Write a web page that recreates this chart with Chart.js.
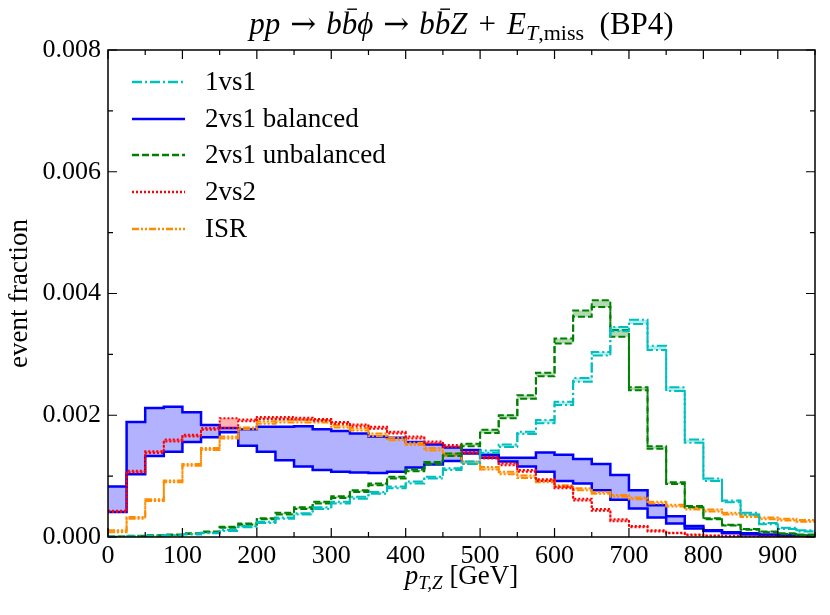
<!DOCTYPE html>
<html>
<head>
<meta charset="utf-8">
<script src="https://cdn.jsdelivr.net/npm/chart.js@4.4.0/dist/chart.umd.min.js"></script>
<style>
  body { margin: 0; background: #fff; }
</style>
</head>
<body>
<canvas id="histChart" width="830" height="615"></canvas>
<script>
// bin edges in GeV (25 GeV bins)
const binEdges = [0, 25, 50, 75, 100, 125, 150, 175, 200, 225, 250, 275, 300, 325, 350, 375, 400, 425, 450,
  475, 500, 525, 550, 575, 600, 625, 650, 675, 700, 725, 750, 775, 800, 825, 850, 875, 900, 925, 950];
const UNIT = 1e-3; // values below are in units of 10^-3

// 1vs1
const oneVsOneHi = [0.005, 0.01, 0.02, 0.03, 0.05, 0.07, 0.12, 0.18, 0.25, 0.32, 0.39, 0.49, 0.58, 0.66, 0.74, 0.83, 0.91, 0.99, 1.13,
  1.24, 1.42, 1.52, 1.73, 1.92, 2.22, 2.61, 3.04, 3.45, 3.57, 3.14, 2.46, 1.60, 0.96, 0.60, 0.40, 0.23, 0.15, 0.11];
const oneVsOneLo = [0.003, 0.008, 0.015, 0.025, 0.04, 0.06, 0.10, 0.16, 0.23, 0.30, 0.37, 0.46, 0.55, 0.63, 0.71, 0.80, 0.88, 0.96, 1.10,
  1.20, 1.38, 1.48, 1.69, 1.87, 2.17, 2.55, 2.98, 3.38, 3.50, 3.07, 2.40, 1.55, 0.92, 0.57, 0.37, 0.21, 0.13, 0.09];

// 2vs1 balanced
const balancedHi = [0.83, 1.89, 2.12, 2.14, 2.05, 1.84, 1.79, 1.77, 1.81, 1.81, 1.82, 1.77, 1.74, 1.70, 1.65, 1.63, 1.56, 1.52, 1.47,
  1.43, 1.35, 1.30, 1.30, 1.39, 1.35, 1.28, 1.20, 1.02, 0.77, 0.52, 0.34, 0.18, 0.11, 0.08, 0.06, 0.04, 0.03, 0.02];
const balancedLo = [0.41, 1.03, 1.33, 1.40, 1.56, 1.64, 1.72, 1.50, 1.40, 1.26, 1.16, 1.10, 1.07, 1.06, 1.05, 1.07, 1.14, 1.19, 1.25,
  1.37, 1.30, 1.24, 1.16, 1.07, 0.92, 0.88, 0.77, 0.61, 0.47, 0.32, 0.22, 0.14, 0.10, 0.06, 0.04, 0.03, 0.02, 0.01];

// 2vs1 unbalanced
const unbalancedHi = [0.01, 0.02, 0.03, 0.04, 0.06, 0.09, 0.17, 0.22, 0.31, 0.40, 0.49, 0.58, 0.67, 0.77, 0.88, 0.99, 1.11, 1.23, 1.37,
  1.53, 1.76, 2.00, 2.33, 2.70, 3.26, 3.72, 3.89, 3.40, 2.46, 1.49, 0.90, 0.51, 0.31, 0.20, 0.13, 0.09, 0.06, 0.04];
const unbalancedLo = [0.005, 0.01, 0.02, 0.03, 0.05, 0.08, 0.15, 0.20, 0.29, 0.37, 0.46, 0.55, 0.64, 0.74, 0.85, 0.96, 1.08, 1.20, 1.33,
  1.49, 1.71, 1.95, 2.27, 2.64, 3.18, 3.62, 3.78, 3.29, 2.41, 1.45, 0.87, 0.49, 0.29, 0.19, 0.12, 0.08, 0.05, 0.03];

// 2vs2
const twoVsTwoHi = [0.43, 1.09, 1.41, 1.60, 1.68, 1.79, 1.95, 1.93, 1.97, 1.97, 1.96, 1.94, 1.89, 1.85, 1.81, 1.73, 1.65, 1.57, 1.51,
  1.40, 1.32, 1.21, 1.10, 0.95, 0.83, 0.63, 0.46, 0.29, 0.18, 0.11, 0.07, 0.04, 0.025, 0.015, 0.01, 0.01, 0.005, 0.005];
const twoVsTwoLo = [0.41, 1.06, 1.38, 1.57, 1.65, 1.76, 1.79, 1.90, 1.94, 1.94, 1.93, 1.91, 1.86, 1.82, 1.78, 1.70, 1.62, 1.54, 1.48,
  1.37, 1.29, 1.18, 1.07, 0.92, 0.80, 0.60, 0.43, 0.26, 0.16, 0.09, 0.06, 0.03, 0.02, 0.01, 0.005, 0.005, 0.002, 0.002];

// ISR
const isrHi = [0.11, 0.33, 0.62, 0.93, 1.20, 1.46, 1.65, 1.80, 1.90, 1.92, 1.92, 1.92, 1.84, 1.79, 1.70, 1.63, 1.55, 1.46, 1.37,
  1.24, 1.15, 1.07, 1.01, 0.94, 0.85, 0.80, 0.74, 0.69, 0.65, 0.58, 0.53, 0.48, 0.45, 0.40, 0.36, 0.32, 0.30, 0.28];
const isrLo = [0.08, 0.30, 0.59, 0.90, 1.17, 1.43, 1.62, 1.77, 1.86, 1.88, 1.88, 1.88, 1.80, 1.75, 1.66, 1.59, 1.51, 1.42, 1.33,
  1.20, 1.11, 1.03, 0.97, 0.90, 0.82, 0.77, 0.71, 0.66, 0.62, 0.55, 0.50, 0.45, 0.42, 0.37, 0.33, 0.29, 0.27, 0.25];

const xTicks = [0, 100, 200, 300, 400, 500, 600, 700, 800, 900];
const yTicks = [0, 0.002, 0.004, 0.006, 0.008];

const SERIF = '"Liberation Serif", "Times New Roman", serif';
const ARROWFONT = '"DejaVu Serif", serif';

const series = [
  { label: '1vs1', hi: oneVsOneHi, lo: oneVsOneLo, color: '#00bfbf', fill: 'rgba(0,191,191,0.3)', dash: [10, 3, 2, 3], width: 2 },
  { label: '2vs1 balanced', hi: balancedHi, lo: balancedLo, color: '#0000ff', fill: 'rgba(0,0,255,0.3)', dash: [], width: 2.5 },
  { label: '2vs1 unbalanced', hi: unbalancedHi, lo: unbalancedLo, color: '#008000', fill: 'rgba(0,128,0,0.3)', dash: [7, 3], width: 2 },
  { label: '2vs2', hi: twoVsTwoHi, lo: twoVsTwoLo, color: '#ff0000', fill: 'rgba(255,0,0,0.3)', dash: [2, 2], width: 2 },
  { label: 'ISR', hi: isrHi, lo: isrLo, color: '#ff8c00', fill: 'rgba(255,140,0,0.3)', dash: [7, 2, 2, 2, 2, 2], width: 2 }
];

// histogram step points: one point per left edge, last value repeated at the right edge
const toPoints = vals => binEdges.map((e, i) => ({ x: e, y: vals[Math.min(i, vals.length - 1)] * UNIT }));

// draw order: balanced band at the back, then the others
const drawOrder = [0, 2, 3, 4, 1];
const datasets = [];
drawOrder.forEach(k => {
  const s = series[k];
  const common = { borderColor: s.color, borderWidth: s.width, borderDash: s.dash, stepped: 'before', pointRadius: 0, tension: 0 };
  datasets.push(Object.assign({ label: s.label, data: toPoints(s.hi), backgroundColor: s.fill, fill: '+1' }, common));
  datasets.push(Object.assign({ label: s.label + ' low', data: toPoints(s.lo), fill: false }, common));
});

// draws a line of text with italic / subscript / overbar pieces, centred on cx
function drawRich(ctx, parts, cx, baseline, size) {
  const fontOf = p => (p.i ? 'italic ' : '') + (p.sub ? Math.round(size * 0.7) : size) + 'px ' + (p.f || SERIF);
  const widthOf = p => { ctx.font = fontOf(p); return ctx.measureText(p.t).width + (p.gap || 0) * 2; };
  let total = 0;
  parts.forEach(p => { total += widthOf(p); });
  let x = cx - total / 2;
  ctx.textAlign = 'left';
  ctx.textBaseline = 'alphabetic';
  ctx.fillStyle = '#000';
  parts.forEach(p => {
    const w = widthOf(p);
    const g = p.gap || 0;
    ctx.font = fontOf(p);
    const y = p.sub ? baseline + size * 0.2 : baseline;
    ctx.fillText(p.t, x + g, y);
    if (p.bar) {
      ctx.save();
      ctx.strokeStyle = '#000';
      ctx.lineWidth = 1.4;
      ctx.beginPath();
      ctx.moveTo(x + w * 0.35, baseline - size * 0.8);
      ctx.lineTo(x + w * 0.98, baseline - size * 0.8);
      ctx.stroke();
      ctx.restore();
    }
    x += w;
  });
}

const decorPlugin = {
  id: 'decor',
  afterDraw(chart) {
    const { ctx, chartArea: a, scales: { x, y } } = chart;
    ctx.save();
    ctx.strokeStyle = '#000';
    // inward ticks on all four sides
    ctx.lineWidth = 1.2;
    ctx.beginPath();
    for (let v = 0; v <= 950; v += 50) {
      const px = x.getPixelForValue(v);
      const len = v % 100 === 0 ? 9 : 5;
      ctx.moveTo(px, a.bottom); ctx.lineTo(px, a.bottom - len);
      ctx.moveTo(px, a.top); ctx.lineTo(px, a.top + len);
    }
    for (let v = 0; v <= 8; v += 1) {
      const py = y.getPixelForValue(v * UNIT);
      const len = v % 2 === 0 ? 9 : 5;
      ctx.moveTo(a.left, py); ctx.lineTo(a.left + len, py);
      ctx.moveTo(a.right, py); ctx.lineTo(a.right - len, py);
    }
    ctx.stroke();
    // frame
    ctx.lineWidth = 1.5;
    ctx.strokeRect(a.left, a.top, a.right - a.left, a.bottom - a.top);

    // legend
    const legendY = [82, 119, 155, 192, 229];
    series.forEach((s, k) => {
      const ly = legendY[k];
      ctx.strokeStyle = s.color;
      ctx.lineWidth = 2.5;
      ctx.setLineDash(s.dash);
      ctx.beginPath();
      ctx.moveTo(132, ly); ctx.lineTo(185, ly);
      ctx.stroke();
      ctx.setLineDash([]);
      ctx.fillStyle = '#000';
      ctx.font = '27px ' + SERIF;
      ctx.textAlign = 'left';
      ctx.textBaseline = 'alphabetic';
      ctx.fillText(s.label, 205, ly + 8);
    });

    // title
    const cx = (a.left + a.right) / 2;
    drawRich(ctx, [
      { t: 'pp', i: 1 }, { t: '\u2192', gap: 10, f: ARROWFONT }, { t: 'b', i: 1 }, { t: 'b', i: 1, bar: 1 }, { t: '\u03d5', i: 1 },
      { t: '\u2192', gap: 10, f: ARROWFONT }, { t: 'b', i: 1 }, { t: 'b', i: 1, bar: 1 }, { t: 'Z', i: 1 }, { t: '+', gap: 11 },
      { t: 'E', i: 1 }, { t: 'T', i: 1, sub: 1 }, { t: ',miss', sub: 1 }, { t: '  (BP4)' }
    ], cx, 34, 31);

    // x-axis label
    drawRich(ctx, [{ t: 'p', i: 1 }, { t: 'T,Z', i: 1, sub: 1 }, { t: ' [GeV]' }], cx, 584, 27);
    ctx.restore();
  }
};

new Chart(document.getElementById('histChart'), {
  type: 'line',
  data: { datasets },
  options: {
    responsive: false,
    animation: false,
    devicePixelRatio: 1,
    layout: { padding: { top: 50, right: 15, left: 0, bottom: 0 } },
    plugins: {
      legend: { display: false },
      tooltip: { enabled: false },
      filler: { propagate: false }
    },
    scales: {
      x: {
        type: 'linear',
        min: 0,
        max: 950,
        afterFit: s => { s.height = 78; },
        afterBuildTicks: s => { s.ticks = xTicks.map(v => ({ value: v })); },
        ticks: { color: '#000', font: { family: SERIF, size: 26 }, padding: 4, maxRotation: 0 },
        grid: { display: false, drawTicks: false },
        border: { display: false }
      },
      y: {
        min: 0,
        max: 0.008,
        afterFit: s => { s.width = 108; },
        afterBuildTicks: s => { s.ticks = yTicks.map(v => ({ value: v })); },
        ticks: { color: '#000', font: { family: SERIF, size: 26 }, padding: 7, callback: v => v.toFixed(3) },
        grid: { display: false, drawTicks: false },
        border: { display: false },
        title: { display: true, text: 'event fraction', color: '#000', font: { family: SERIF, size: 27 }, padding: { top: 4, bottom: 0 } }
      }
    }
  },
  plugins: [decorPlugin]
});
</script>
</body>
</html>
